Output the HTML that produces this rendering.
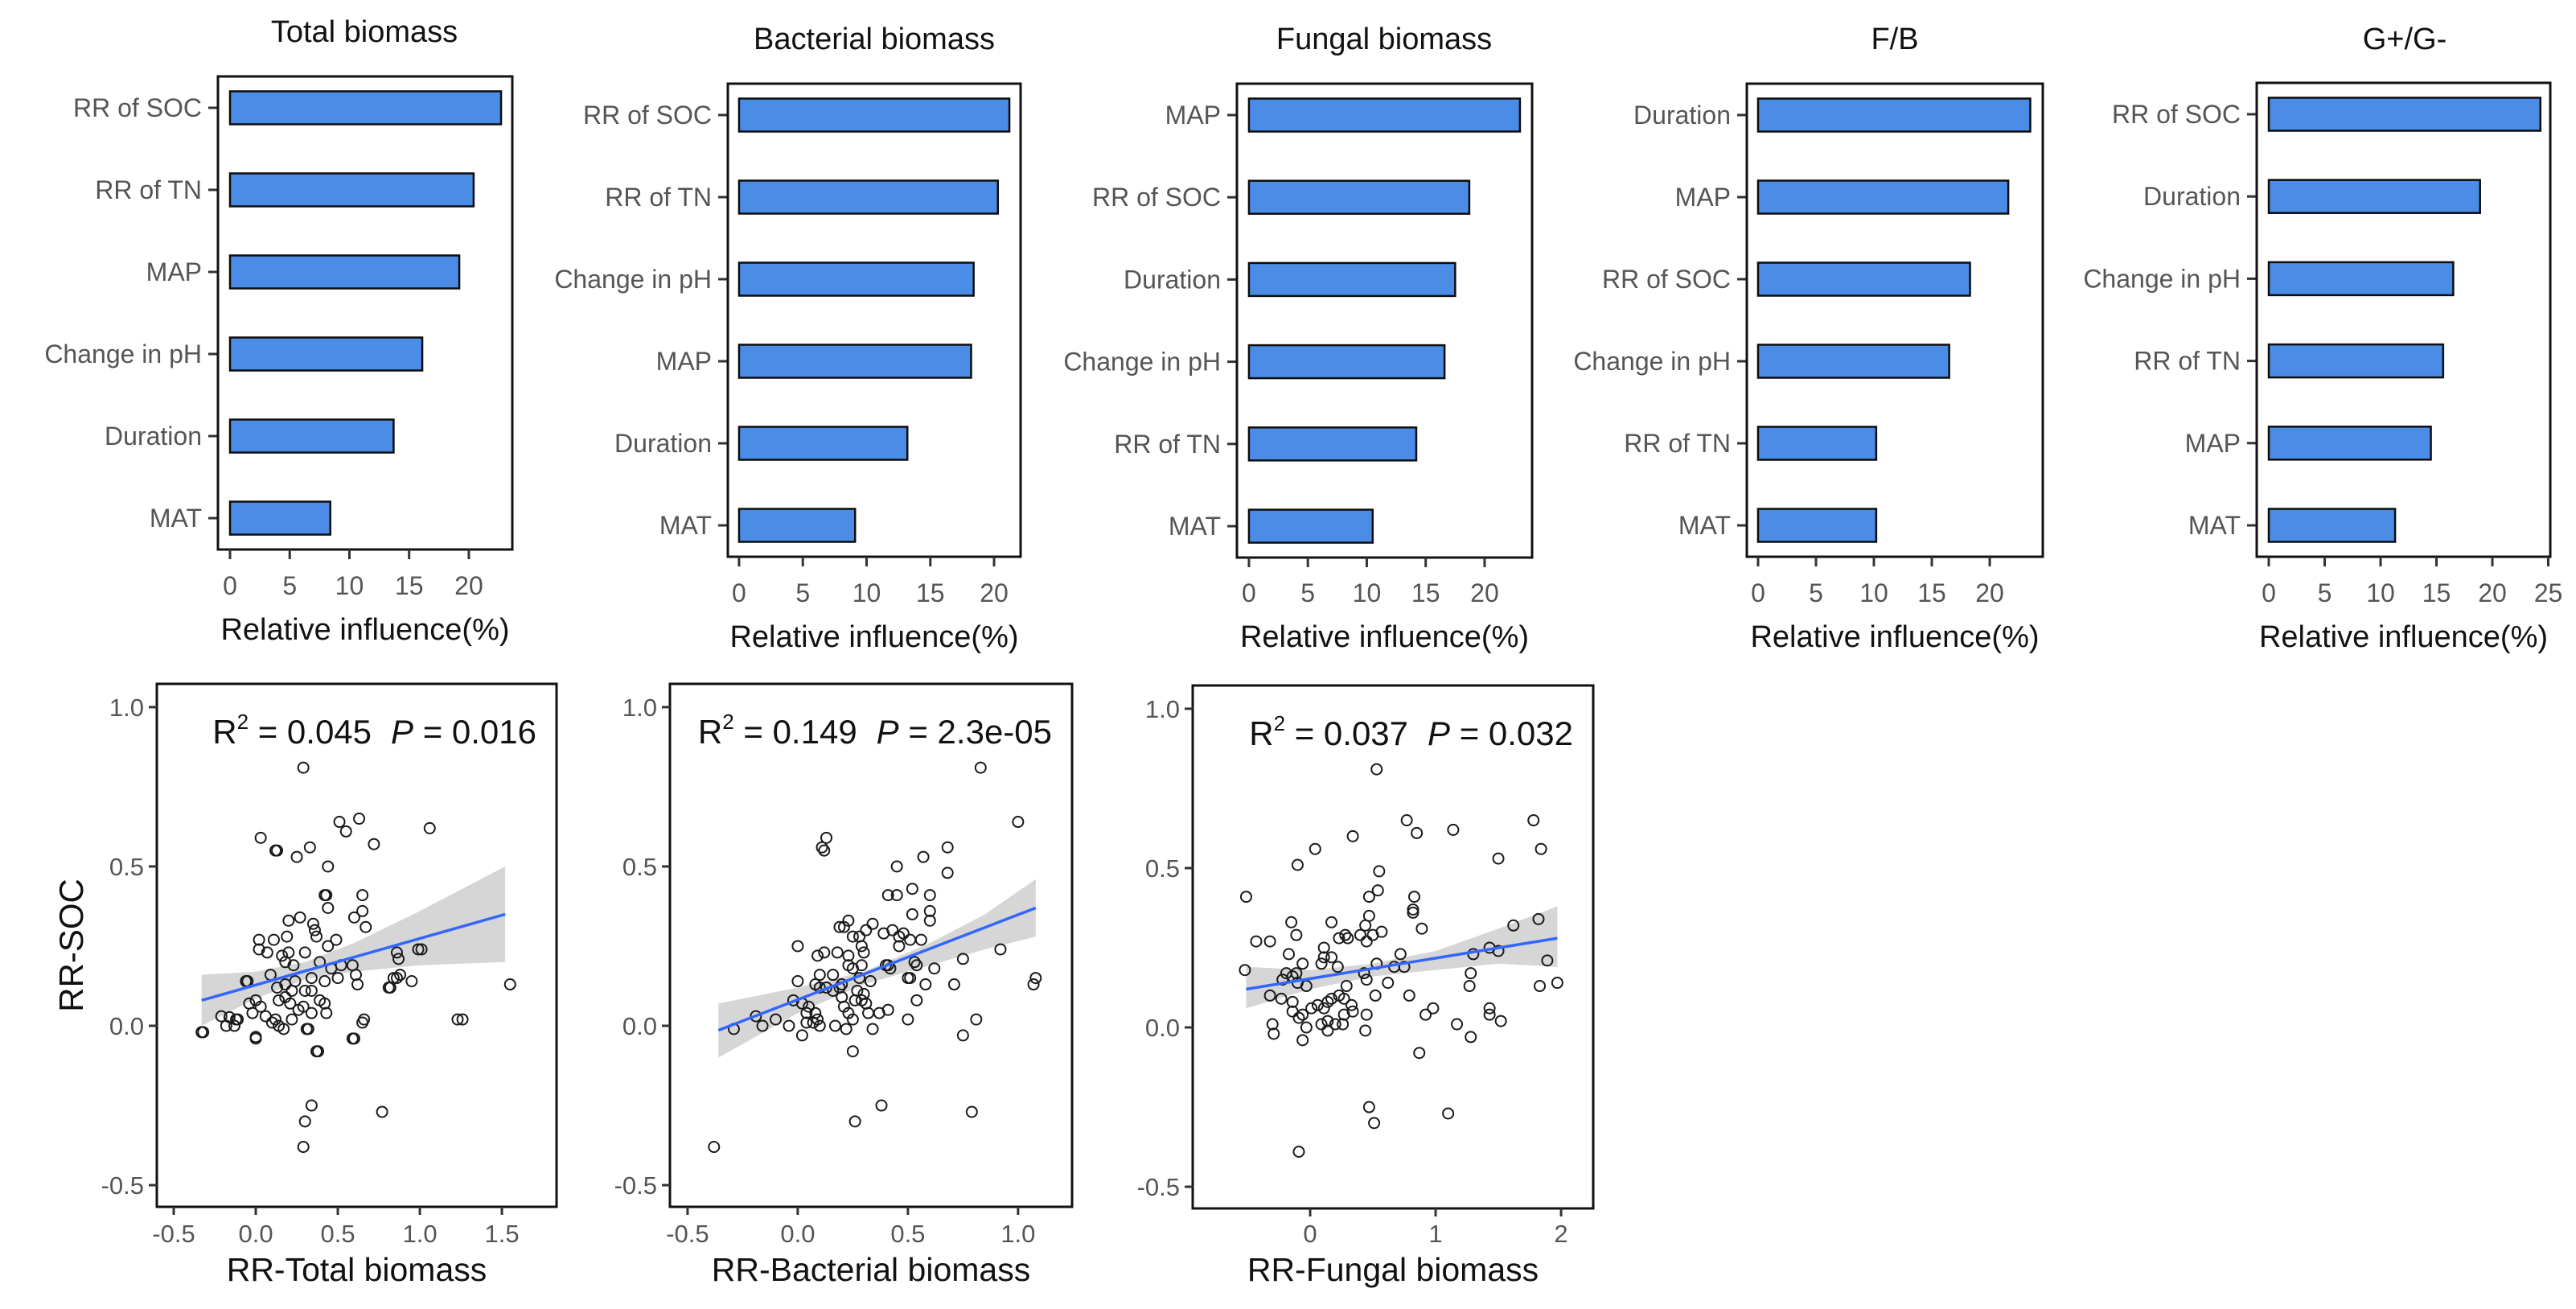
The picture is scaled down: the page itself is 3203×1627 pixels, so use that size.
<!DOCTYPE html>
<html><head><meta charset="utf-8"><title>Relative influence and RR-SOC regressions</title>
<style>
html,body{margin:0;padding:0;background:#fff;}
svg{display:block;font-family:"Liberation Sans",Arial,sans-serif;}
</style></head>
<body>
<svg id="fig" width="3203" height="1627" viewBox="0 0 3203 1627" xmlns="http://www.w3.org/2000/svg">
<rect x="0" y="0" width="3203" height="1627" fill="#fff"/>
</svg>
<script>
// ---------- Bar chart data ----------
const totalCats = ["RR of SOC","RR of TN","MAP","Change in pH","Duration","MAT"];
const totalVals = [22.7,20.4,19.2,16.1,13.7,8.4];
const bactCats = ["RR of SOC","RR of TN","Change in pH","MAP","Duration","MAT"];
const bactVals = [21.2,20.3,18.4,18.2,13.2,9.1];
const fungCats = ["MAP","RR of SOC","Duration","Change in pH","RR of TN","MAT"];
const fungVals = [23.0,18.7,17.5,16.6,14.2,10.5];
const fbCats = ["Duration","MAP","RR of SOC","Change in pH","RR of TN","MAT"];
const fbVals = [23.5,21.6,18.3,16.5,10.2,10.2];
const ggCats = ["RR of SOC","Duration","Change in pH","RR of TN","MAP","MAT"];
const ggVals = [24.3,18.9,16.5,15.6,14.5,11.3];
const barTitles = ["Total biomass","Bacterial biomass","Fungal biomass","F/B","G+/G-"];
const barTicks20 = [0,5,10,15,20];
const barTicks25 = [0,5,10,15,20,25];

// ---------- Scatter data ----------
const totX = [-0.32,-0.16,-0.13,-0.11,0.0,-0.05,0.38,0.34,0.30,0.29,0.77,0.32,0.6,0.66,0.82,0.86,0.95,0.86,0.87,1.01,1.55,1.26,0.88,
0.29,0.03,0.12,0.13,0.25,0.33,0.44,0.51,0.55,0.63,0.72,1.06,0.42,0.43,0.44,0.65,0.65,0.60,0.67,0.27,0.20,0.35,0.36,0.37,0.49,0.44,
0.02,0.02,0.11,0.19,0.30,0.16,0.20,0.07,-0.06,0.09,0.18,0.23,0.39,0.46,0.52,0.59,0.61,0.62,0.50,0.42,0.34,0.18,0.22,0.13,0.24,0.30,
-0.04,0.0,0.03,-0.02,0.06,0.12,0.10,0.14,0.17,0.22,0.26,0.29,0.34,0.39,0.42,0.43,0.31,0.65,0.59,0.0,0.14,0.18,0.21,0.34,
0.99,0.84,0.81,1.23,0.37,-0.33,-0.21,-0.18,-0.12];
const totY = [-0.02,0.027,0.0,0.02,-0.035,0.14,-0.08,-0.25,-0.30,-0.38,-0.27,-0.01,-0.04,0.02,0.12,0.15,0.14,0.23,0.21,0.24,0.13,0.02,0.16,
0.81,0.59,0.55,0.55,0.53,0.56,0.50,0.64,0.61,0.65,0.57,0.62,0.41,0.41,0.37,0.41,0.36,0.34,0.31,0.34,0.33,0.32,0.30,0.28,0.27,0.25,
0.27,0.24,0.27,0.28,0.23,0.22,0.23,0.23,0.14,0.16,0.20,0.19,0.20,0.18,0.19,0.19,0.16,0.13,0.15,0.14,0.15,0.13,0.11,0.12,0.14,0.11,
0.07,0.08,0.06,0.04,0.03,0.02,0.01,0.0,-0.01,0.02,0.05,0.06,0.04,0.08,0.07,0.04,-0.01,0.01,-0.04,-0.04,0.08,0.09,0.07,0.11,
0.24,0.15,0.12,0.02,-0.08,-0.02,0.03,0.0,0.02];
const totBandX = [-0.33,0.0,0.3,0.6,1.0,1.52];
const totBandLo = [0.0,0.085,0.146,0.17,0.19,0.20];
const totBandHi = [0.16,0.17,0.20,0.26,0.36,0.50];
const totFitX = [-0.33,1.52];
const totFitY = [0.08,0.35];

const bacX = [0.83,1.0,0.13,0.11,0.12,0.68,0.68,0.57,0.45,0.52,0.41,0.45,0.60,0.52,0.6,0.6,0.23,0.21,0.19,0.34,0.31,0.28,0.25,
0.39,0.43,0.46,0.48,0.51,0.56,0.46,0.29,0.30,0.0,0.09,0.12,0.18,0.23,0.92,0.75,0.53,0.54,0.62,0.40,0.42,0.41,0.23,0.25,0.29,0.10,0.16,0.33,0.28,
0.50,0.51,0.58,0.71,1.08,1.07,0.0,0.08,0.10,0.13,0.16,0.19,0.20,0.27,0.30,0.26,0.29,0.31,
-0.02,0.02,0.05,0.08,0.09,0.07,0.10,0.04,0.04,0.2,0.21,0.23,0.25,0.32,0.37,0.41,0.54,
-0.19,-0.16,-0.10,-0.04,-0.29,0.02,0.17,0.22,0.34,0.50,0.81,0.75,0.25,0.38,0.26,0.79,-0.38];
const bacY = [0.81,0.64,0.59,0.56,0.55,0.56,0.48,0.53,0.50,0.43,0.41,0.41,0.41,0.35,0.36,0.33,0.33,0.31,0.31,0.32,0.30,0.28,0.28,
0.29,0.30,0.28,0.29,0.27,0.27,0.25,0.25,0.23,0.25,0.22,0.23,0.23,0.22,0.24,0.21,0.20,0.19,0.18,0.19,0.18,0.19,0.19,0.18,0.19,0.16,0.16,0.14,0.15,
0.15,0.15,0.13,0.13,0.15,0.13,0.14,0.13,0.12,0.12,0.11,0.12,0.13,0.11,0.10,0.08,0.08,0.07,
0.08,0.07,0.06,0.04,0.02,0.01,0.0,0.01,0.04,0.09,0.06,0.04,0.02,0.04,0.04,0.05,0.08,
0.03,0.0,0.02,0.0,-0.01,-0.03,0.0,-0.01,-0.01,0.02,0.02,-0.03,-0.08,-0.25,-0.30,-0.27,-0.38];
const bacBandX = [-0.36,0.0,0.3,0.6,0.85,1.08];
const bacBandLo = [-0.10,0.04,0.13,0.19,0.24,0.28];
const bacBandHi = [0.07,0.12,0.17,0.26,0.35,0.46];
const bacFitX = [-0.36,1.08];
const bacFitY = [-0.014,0.37];

const funX = [0.53,0.77,0.85,1.14,1.78,1.84,1.50,0.34,0.04,-0.10,0.55,0.54,0.47,-0.51,0.83,0.82,0.82,0.89,-0.15,-0.11,0.17,0.47,0.44,0.57,0.50,0.45,0.40,
0.30,0.28,0.23,-0.43,-0.32,-0.17,1.62,1.82,1.89,1.83,1.97,1.43,1.50,1.30,1.28,1.27,-0.52,0.72,0.67,0.75,0.53,0.43,0.45,0.62,0.52,0.79,
0.11,0.17,0.22,0.11,0.09,-0.06,-0.19,-0.14,-0.11,-0.22,-0.10,-0.03,-0.32,-0.23,-0.14,-0.14,-0.09,-0.06,-0.03,-0.06,-0.30,-0.29,
0.01,0.06,0.11,0.14,0.17,0.23,0.29,0.27,0.33,0.34,0.27,0.09,0.14,0.2,0.26,0.14,0.45,0.44,
0.92,0.98,1.17,1.28,1.43,1.43,1.52,0.87,0.47,0.51,1.10,-0.09];
const funY = [0.81,0.65,0.61,0.62,0.65,0.56,0.53,0.60,0.56,0.51,0.49,0.43,0.41,0.41,0.41,0.37,0.36,0.31,0.33,0.29,0.33,0.35,0.32,0.30,0.29,0.27,0.29,
0.28,0.29,0.28,0.27,0.27,0.23,0.32,0.34,0.21,0.13,0.14,0.25,0.24,0.23,0.17,0.13,0.18,0.23,0.19,0.19,0.20,0.17,0.15,0.14,0.10,0.10,
0.25,0.22,0.19,0.22,0.2,0.2,0.17,0.16,0.17,0.15,0.14,0.13,0.10,0.09,0.08,0.05,0.03,0.04,0.0,-0.04,0.01,-0.02,
0.06,0.07,0.06,0.08,0.09,0.10,0.13,0.09,0.07,0.05,0.04,0.01,-0.01,0.01,0.01,0.02,0.04,-0.01,
0.04,0.06,0.01,-0.03,0.06,0.04,0.02,-0.08,-0.25,-0.30,-0.27,-0.39];
const funBandX = [-0.51,0.0,0.5,1.0,1.5,1.97];
const funBandLo = [0.06,0.12,0.16,0.18,0.20,0.19];
const funBandHi = [0.19,0.18,0.20,0.24,0.31,0.38];
const funFitX = [-0.51,1.97];
const funFitY = [0.12,0.28];

const yTickVals = [1.0,0.5,0.0,-0.5];
const yTickLabels = ["1.0","0.5","0.0","-0.5"];
const totXTicks = [-0.5,0.0,0.5,1.0,1.5];
const totXLabels = ["-0.5","0.0","0.5","1.0","1.5"];
const bacXTicks = [-0.5,0.0,0.5,1.0];
const bacXLabels = ["-0.5","0.0","0.5","1.0"];
const funXTicks = [0,1,2];
const funXLabels = ["0","1","2"];

// ---------- helpers ----------
const NS = "http://www.w3.org/2000/svg";
const svg = document.getElementById("fig");
function mk(tag, attrs, parent, text){
  const e = document.createElementNS(NS, tag);
  for (const k in attrs) e.setAttribute(k, attrs[k]);
  if (text !== undefined) e.textContent = text;
  (parent || svg).appendChild(e);
  return e;
}
function lin(d0,d1,r0,r1){ return v => r0 + (v-d0)/(d1-d0)*(r1-r0); }

// ---------- bar panels ----------
const barLayouts = [
  {l:271,r:637,t:95,b:683,dom:[-1.01,23.64],tickY:728,titleY:782,headY:52,head:453},
  {l:905,r:1269,t:104,b:692,dom:[-0.88,22.08],tickY:737,titleY:791,headY:61,head:1087},
  {l:1538,r:1905,t:104,b:693,dom:[-1.02,24.03],tickY:737,titleY:791,headY:61,head:1721},
  {l:2172,r:2540,t:104,b:692,dom:[-0.97,24.58],tickY:737,titleY:791,headY:61,head:2356},
  {l:2806,r:3171,t:103,b:692,dom:[-1.08,25.18],tickY:737,titleY:791,headY:61,head:2990}
];
const barCats = [totalCats,bactCats,fungCats,fbCats,ggCats];
const barVals = [totalVals,bactVals,fungVals,fbVals,ggVals];
const barTickSets = [barTicks20,barTicks20,barTicks20,barTicks20,barTicks25];

barLayouts.forEach((L,pi)=>{
  const g = mk("g",{});
  
  
  const x = lin(L.dom[0],L.dom[1],L.l,L.r);
  const cats = barCats[pi], vals = barVals[pi];
  const n = cats.length;
  const margin = 39;
  const step = (L.b-L.t-2*margin)/(n-1);
  const bh = 41;
  const t = mk("text",{x:L.head,y:L.headY,"text-anchor":"middle","font-size":38,fill:"#111"},g,barTitles[pi]);
  
  
  cats.forEach((c,i)=>{
    const cy = L.t+margin+i*step;
    const bar = mk("rect",{x:x(0),y:cy-bh/2,width:x(vals[i])-x(0),height:bh,fill:"#4a8ce6",stroke:"#0d0d0d","stroke-width":2.5},g);
    
    
    const tk = mk("line",{x1:L.l-12,x2:L.l,y1:cy,y2:cy,stroke:"#333","stroke-width":3},g);
    
    
    const lb = mk("text",{x:L.l-20,y:cy+11,"text-anchor":"end","font-size":32,fill:"#555"},g,c);
    
    
  });
  const box = mk("rect",{x:L.l,y:L.t,width:L.r-L.l,height:L.b-L.t,fill:"none",stroke:"#111","stroke-width":3},g);
  
  
  barTickSets[pi].forEach(v=>{
    const tk = mk("line",{x1:x(v),x2:x(v),y1:L.b,y2:L.b+12,stroke:"#333","stroke-width":3},g);
    
    
    const tl = mk("text",{x:x(v),y:L.tickY+11,"text-anchor":"middle","font-size":32,fill:"#555"},g,String(v));
    
    
  });
  const at = mk("text",{x:(L.l+L.r)/2,y:L.titleY+13,"text-anchor":"middle","font-size":38,fill:"#111"},g,"Relative influence(%)");
  
  
});

// ---------- scatter panels ----------
const scLayouts = [
  {l:195,r:692,t:850,b:1500,xd:[-0.603,1.833]},
  {l:833,r:1333,t:850,b:1500,xd:[-0.580,1.245]},
  {l:1483,r:1981,t:852,b:1502,xd:[-0.936,2.256]}
];
const yDom = [-0.568,1.073];
const scX = [totX,bacX,funX];
const scY = [totY,bacY,funY];
const scBX = [totBandX,bacBandX,funBandX];
const scBLo = [totBandLo,bacBandLo,funBandLo];
const scBHi = [totBandHi,bacBandHi,funBandHi];
const scFX = [totFitX,bacFitX,funFitX];
const scFY = [totFitY,bacFitY,funFitY];
const scXT = [totXTicks,bacXTicks,funXTicks];
const scXL = [totXLabels,bacXLabels,funXLabels];
const scTitles = ["RR-Total biomass","RR-Bacterial biomass","RR-Fungal biomass"];
const scR2 = ["0.045","0.149","0.037"];
const scP = ["0.016","2.3e-05","0.032"];

scLayouts.forEach((L,pi)=>{
  const g = mk("g",{});
  
  
  const x = lin(L.xd[0],L.xd[1],L.l,L.r);
  const y = lin(yDom[0],yDom[1],L.b,L.t);
  const bx = scBX[pi], lo = scBLo[pi], hi = scBHi[pi];
  let d = "";
  bx.forEach((v,i)=>{ d += (i?"L":"M")+x(v).toFixed(1)+","+y(hi[i]).toFixed(1); });
  for (let i=bx.length-1;i>=0;i--) d += "L"+x(bx[i]).toFixed(1)+","+y(lo[i]).toFixed(1);
  d += "Z";
  const band = mk("path",{d:d,fill:"#cfcfcf","fill-opacity":0.85},g);
  
  
  const xs = scX[pi], ys = scY[pi];
  xs.forEach((v,i)=>{
    const c = mk("circle",{cx:x(v),cy:y(ys[i]),r:6.5,fill:"none",stroke:"#1a1a1a","stroke-width":2},g);
    
    
  });
  const fx = scFX[pi], fy = scFY[pi];
  const ln = mk("line",{x1:x(fx[0]),y1:y(fy[0]),x2:x(fx[1]),y2:y(fy[1]),stroke:"#3366ff","stroke-width":3.5},g);
  
  
  const box = mk("rect",{x:L.l,y:L.t,width:L.r-L.l,height:L.b-L.t,fill:"none",stroke:"#111","stroke-width":3},g);
  
  
  yTickVals.forEach((v,i)=>{
    const tk = mk("line",{x1:L.l-10,x2:L.l,y1:y(v),y2:y(v),stroke:"#333","stroke-width":3},g);
    
    
    const tl = mk("text",{x:L.l-16,y:y(v)+11,"text-anchor":"end","font-size":31,fill:"#555"},g,yTickLabels[i]);
    
    
  });
  scXT[pi].forEach((v,i)=>{
    const tk = mk("line",{x1:x(v),x2:x(v),y1:L.b,y2:L.b+10,stroke:"#333","stroke-width":3},g);
    
    
    const tl = mk("text",{x:x(v),y:1544,"text-anchor":"middle","font-size":31,fill:"#555"},g,scXL[pi][i]);
    
    
  });
  const at = mk("text",{x:(L.l+L.r)/2,y:1592,"text-anchor":"middle","font-size":41,fill:"#111"},g,scTitles[pi]);
  
  
  const st = mk("text",{x:L.r-25,y:L.t+74,"text-anchor":"end","font-size":42,fill:"#111"},g);
  
  
  mk("tspan",{},st,"R");
  mk("tspan",{"font-size":26,dy:-18},st,"2");
  mk("tspan",{dy:18},st," = "+scR2[pi]);
  mk("tspan",{"font-style":"italic",dx:24},st,"P");
  mk("tspan",{},st," = "+scP[pi]);
});

const yt = mk("text",{x:0,y:0,"text-anchor":"middle","font-size":42,fill:"#111",transform:"translate(103,1175) rotate(-90)"},svg,"RR-SOC");


</script>
</body></html>
